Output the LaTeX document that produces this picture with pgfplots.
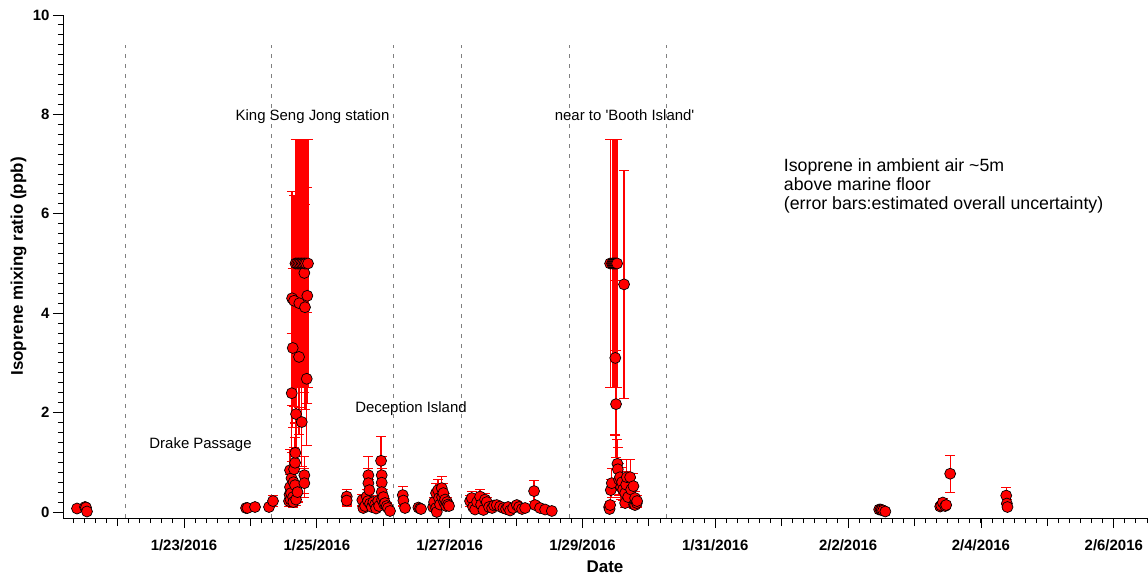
\documentclass[border=0pt]{standalone}
\usepackage{pgfplots}
\usepackage{pgfplotstable}
\pgfplotsset{compat=1.18}
\usepackage{fontspec}
\setmainfont{Liberation Sans}
\newfontfamily\plainsans{Liberation Sans}

\pgfplotstableread{
d v e
0.389 0.07 0.035
0.509 0.10 0.05
0.524 0.09 0.045
0.539 0.01 0.005
2.934 0.08 0.04
2.956 0.08 0.04
3.069 0.10 0.05
3.280 0.10 0.05
3.340 0.22 0.11
3.581 0.22 0.11
3.589 0.35 0.17
3.596 0.50 0.25
3.596 0.84 0.42
3.604 0.25 0.12
3.611 0.38 0.19
3.619 0.68 0.34
3.622 2.39 1.20
3.627 4.30 2.15
3.637 3.30 1.60
3.642 0.30 0.15
3.646 0.20 0.10
3.649 0.60 0.30
3.657 0.86 0.43
3.657 4.25 2.12
3.672 0.54 0.27
3.672 0.99 0.50
3.676 1.19 0.60
3.679 5.00 2.50
3.687 1.97 0.98
3.687 0.25 0.12
3.702 5.00 2.50
3.709 0.40 0.20
3.724 5.00 2.50
3.732 3.12 1.56
3.736 4.20 2.10
3.747 5.00 2.50
3.770 5.00 2.50
3.773 1.81 0.90
3.792 5.00 2.50
3.812 4.81 2.40
3.812 0.74 0.37
3.812 0.58 0.29
3.815 5.00 2.50
3.822 4.12 2.06
3.837 5.00 2.50
3.848 2.68 1.34
3.857 4.35 2.17
3.867 5.00 2.50
4.450 0.31 0.15
4.450 0.23 0.11
4.685 0.24 0.12
4.700 0.08 0.04
4.726 0.12 0.06
4.752 0.31 0.15
4.770 0.22 0.11
4.776 0.74 0.37
4.776 0.58 0.29
4.791 0.44 0.22
4.801 0.17 0.08
4.827 0.10 0.05
4.851 0.20 0.10
4.877 0.15 0.07
4.892 0.07 0.03
4.922 0.22 0.11
4.937 0.12 0.06
4.967 1.03 0.49
4.977 0.74 0.37
4.977 0.59 0.29
4.977 0.40 0.20
4.982 0.25 0.12
5.002 0.30 0.15
5.012 0.16 0.08
5.027 0.18 0.09
5.053 0.12 0.06
5.072 0.08 0.04
5.102 0.02 0.01
5.294 0.34 0.17
5.303 0.23 0.11
5.328 0.08 0.04
5.529 0.09 0.04
5.554 0.07 0.03
5.569 0.06 0.03
5.750 0.10 0.05
5.765 0.20 0.10
5.795 0.38 0.19
5.795 0.08 0.04
5.806 0.00 0.00
5.825 0.44 0.22
5.840 0.28 0.14
5.855 0.15 0.07
5.881 0.48 0.24
5.886 0.30 0.15
5.905 0.38 0.19
5.916 0.20 0.10
5.931 0.25 0.12
5.946 0.12 0.06
5.961 0.20 0.10
5.976 0.15 0.07
5.991 0.12 0.06
6.307 0.22 0.11
6.333 0.28 0.14
6.352 0.10 0.05
6.383 0.05 0.03
6.413 0.20 0.10
6.458 0.31 0.15
6.473 0.15 0.07
6.508 0.04 0.02
6.533 0.25 0.12
6.559 0.20 0.10
6.593 0.10 0.05
6.639 0.08 0.04
6.669 0.13 0.06
6.709 0.14 0.07
6.759 0.11 0.05
6.809 0.08 0.04
6.849 0.06 0.03
6.880 0.10 0.05
6.910 0.03 0.02
6.955 0.08 0.04
7.011 0.14 0.07
7.045 0.10 0.05
7.090 0.06 0.03
7.136 0.08 0.04
7.271 0.42 0.21
7.286 0.14 0.07
7.361 0.08 0.04
7.437 0.05 0.03
7.538 0.02 0.01
8.401 0.10 0.05
8.408 0.06 0.03
8.416 0.14 0.07
8.426 0.44 0.22
8.441 0.58 0.29
8.416 5.00 2.50
8.446 5.00 2.50
8.461 5.00 2.50
8.476 5.00 2.50
8.491 5.00 2.50
8.506 5.00 2.50
8.521 5.00 2.50
8.494 3.10 1.55
8.505 2.17 1.08
8.526 0.97 0.48
8.532 0.86 0.43
8.551 0.65 0.32
8.565 0.70 0.35
8.581 0.50 0.25
8.596 0.60 0.30
8.611 0.45 0.22
8.626 4.58 2.29
8.642 0.38 0.19
8.642 0.18 0.09
8.657 0.55 0.27
8.667 0.70 0.35
8.687 0.30 0.15
8.717 0.70 0.35
8.732 0.45 0.22
8.767 0.52 0.26
8.777 0.15 0.07
8.792 0.28 0.14
8.792 0.14 0.07
8.818 0.18 0.09
8.822 0.22 0.11
12.467 0.05 0.02
12.489 0.05 0.02
12.505 0.04 0.02
12.527 0.03 0.01
12.560 0.01 0.01
13.386 0.11 0.05
13.401 0.13 0.06
13.426 0.19 0.09
13.461 0.12 0.06
13.476 0.14 0.07
13.536 0.77 0.37
14.380 0.33 0.17
14.390 0.17 0.08
14.399 0.10 0.05
}\isodata

\begin{document}
\begin{tikzpicture}
\begin{axis}[
  scale only axis, width=1084bp, height=503bp,
  xmin=0.178, xmax=16.5, ymin=-0.121, ymax=10,
  axis x line*=bottom, axis y line*=left,
  axis line style={black, line width=1bp},
  tick align=outside,
  major tick length=10bp, minor tick length=5bp,
  every tick/.style={black, line width=0.9bp},
  xtick={2,4,...,16},
  xticklabels={1/23/2016,1/25/2016,1/27/2016,1/29/2016,1/31/2016,2/2/2016,2/4/2016,2/6/2016},
  minor xtick={0.16667,0.33333,...,16.5},
  extra x ticks={1,3,...,15},
  extra x tick labels={},
  extra x tick style={major tick length=8bp},
  ytick={0,2,...,10},
  minor y tick num=9,
  /pgf/number format/assume math mode=true,
  ticklabel style={font=\fontsize{15}{17}\selectfont\bfseries},
  xticklabel style={yshift=-8bp},
  xlabel={Date},
  ylabel={Isoprene mixing ratio (ppb)},
  label style={font=\fontsize{17}{19}\selectfont\bfseries},
  xlabel style={at={(axis description cs:0.5,-0.10875)}, anchor=base},
  ylabel style={at={(axis description cs:-0.037,0.5)}, anchor=base, rotate=0},
  clip=false,
]
\addplot[gray, dash pattern=on 4bp off 6bp, line width=0.8bp, forget plot] coordinates {(1.12,-0.121) (1.12,9.4)};
\addplot[gray, dash pattern=on 4bp off 6bp, line width=0.8bp, forget plot] coordinates {(3.32,-0.121) (3.32,9.4)};
\addplot[gray, dash pattern=on 4bp off 6bp, line width=0.8bp, forget plot] coordinates {(5.16,-0.121) (5.16,9.4)};
\addplot[gray, dash pattern=on 4bp off 6bp, line width=0.8bp, forget plot] coordinates {(6.18,-0.121) (6.18,9.4)};
\addplot[gray, dash pattern=on 4bp off 6bp, line width=0.8bp, forget plot] coordinates {(7.81,-0.121) (7.81,9.4)};
\addplot[gray, dash pattern=on 4bp off 6bp, line width=0.8bp, forget plot] coordinates {(9.27,-0.121) (9.27,9.4)};

\addplot[only marks, mark=*, mark size=5.5bp,
  mark options={draw=black, fill=red, line width=0.7bp},
  error bars/.cd, y dir=both, y explicit,
  error bar style={red, line width=1.2bp},
  error mark=-,
  error mark options={rotate=90, red, line width=1.1bp, mark size=5bp}]
  table[x=d, y=v, y error=e] {\isodata};

\node[anchor=base, font=\fontsize{15}{17}\selectfont] at (axis cs:3.935,7.87) {King Seng Jong station};
\node[anchor=base, font=\fontsize{15}{17}\selectfont] at (axis cs:8.634,7.87) {near to {\plainsans '}Booth Island{\plainsans '}};
\node[anchor=base, font=\fontsize{15}{17}\selectfont] at (axis cs:5.418,2.0) {Deception Island};
\node[anchor=base, font=\fontsize{15}{17}\selectfont] at (axis cs:2.249,1.27) {Drake Passage};
\node[anchor=base west, align=left, inner sep=0pt, font=\fontsize{17.8}{18.8}\selectfont] at (axis cs:11.03,6.09) {Isoprene in ambient air \textasciitilde5m\\above marine floor\\(error bars:estimated overall uncertainty)};
\end{axis}
\pgfresetboundingbox
\path[use as bounding box] (-63bp,-59bp) rectangle (1085bp,518bp);
\end{tikzpicture}
\end{document}
